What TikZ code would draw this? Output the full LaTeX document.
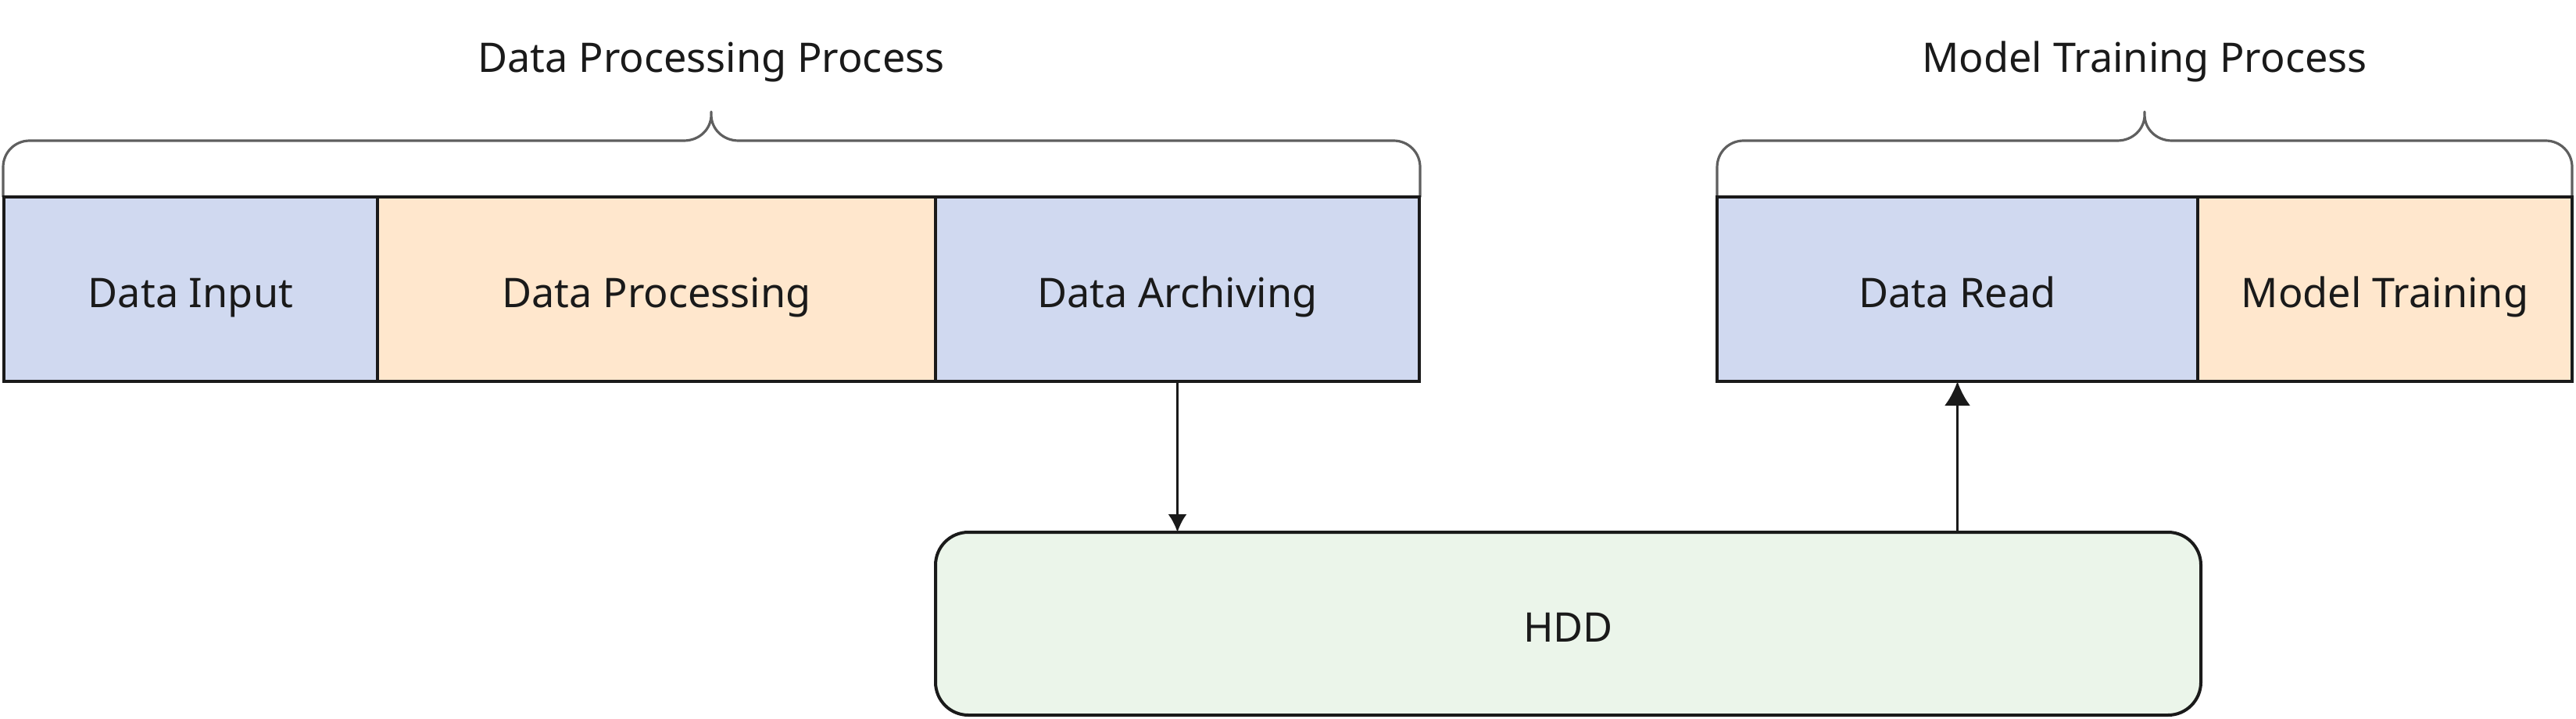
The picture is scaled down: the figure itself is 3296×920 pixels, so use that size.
\documentclass[tikz,border=0pt]{standalone}
\usepackage{fontspec}
\setmainfont{Noto Sans}
\usetikzlibrary{arrows.meta}
\definecolor{bluefill}{HTML}{D0D9F0}
\definecolor{orangefill}{HTML}{FFE7CD}
\definecolor{greenfill}{HTML}{EBF5EA}
\definecolor{edgecol}{HTML}{1A1A1A}
\definecolor{bracegray}{HTML}{5F5F5F}
\begin{document}
\begin{tikzpicture}[x=0.5pt,y=-0.5pt,
  every node/.style={font=\fontsize{26.1}{32}\selectfont, text=edgecol},
  cell/.style={draw=edgecol, line width=1.75pt, inner sep=0pt, outer sep=0pt,
    minimum height=118pt, text height=25pt, text depth=2pt},
  bluecell/.style={cell, fill=bluefill},
  orangecell/.style={cell, fill=orangefill},
  storebox/.style={draw=edgecol, line width=2pt, fill=greenfill, rounded corners=21pt,
    inner sep=0pt, outer sep=0pt, minimum width=809.5pt, minimum height=117pt,
    text height=25pt, text depth=2pt},
  bracepath/.style={draw=bracegray, line width=1.6pt, line cap=round, line join=round},
  flow/.style={draw=edgecol, line width=1.6pt}
]
\useasboundingbox (0,0) rectangle (3296,920);

% titles
\node[anchor=base] (t1) at (910,93) {Data Processing Process};
\node[anchor=base] (t2) at (2744,93) {Model Training Process};

% braces
\path[bracepath] (4,252) -- (4,214) .. controls (4,195) and (19,180) .. (38,180)
  -- (875,180) .. controls (895,180) and (910,165) .. (910,147) -- (910,143)
  -- (910,147) .. controls (910,165) and (925,180) .. (945,180)
  -- (1783,180) .. controls (1802,180) and (1817,195) .. (1817,214) -- (1817,252);
\path[bracepath] (2197,252) -- (2197,214) .. controls (2197,195) and (2212,180) .. (2231,180)
  -- (2709,180) .. controls (2729,180) and (2744,165) .. (2744,147) -- (2744,143)
  -- (2744,147) .. controls (2744,165) and (2759,180) .. (2779,180)
  -- (3257,180) .. controls (3276,180) and (3291,195) .. (3291,214) -- (3291,252);

% process cells
\node[bluecell, minimum width=239pt] (input) at (244,370) {Data Input};
\node[orangecell, minimum width=357pt] (proc) at (840,370) {Data Processing};
\node[bluecell, minimum width=309.5pt] (arch) at (1506.5,370) {Data Archiving};
\node[bluecell, minimum width=307.5pt] (read) at (2504.5,370) {Data Read};
\node[orangecell, minimum width=239.5pt] (train) at (3051.5,370) {Model Training};

% storage
\node[storebox] (hdd) at (2006.5,798) {HDD};

% connectors
\draw[flow, -{Latex[length=11.5pt,width=12pt]}] (arch.south) -- (arch.south |- hdd.north);
\draw[flow, -{Latex[length=15.5pt,width=16.5pt]}] (hdd.north -| read.south) -- (read.south);
\end{tikzpicture}
\end{document}
